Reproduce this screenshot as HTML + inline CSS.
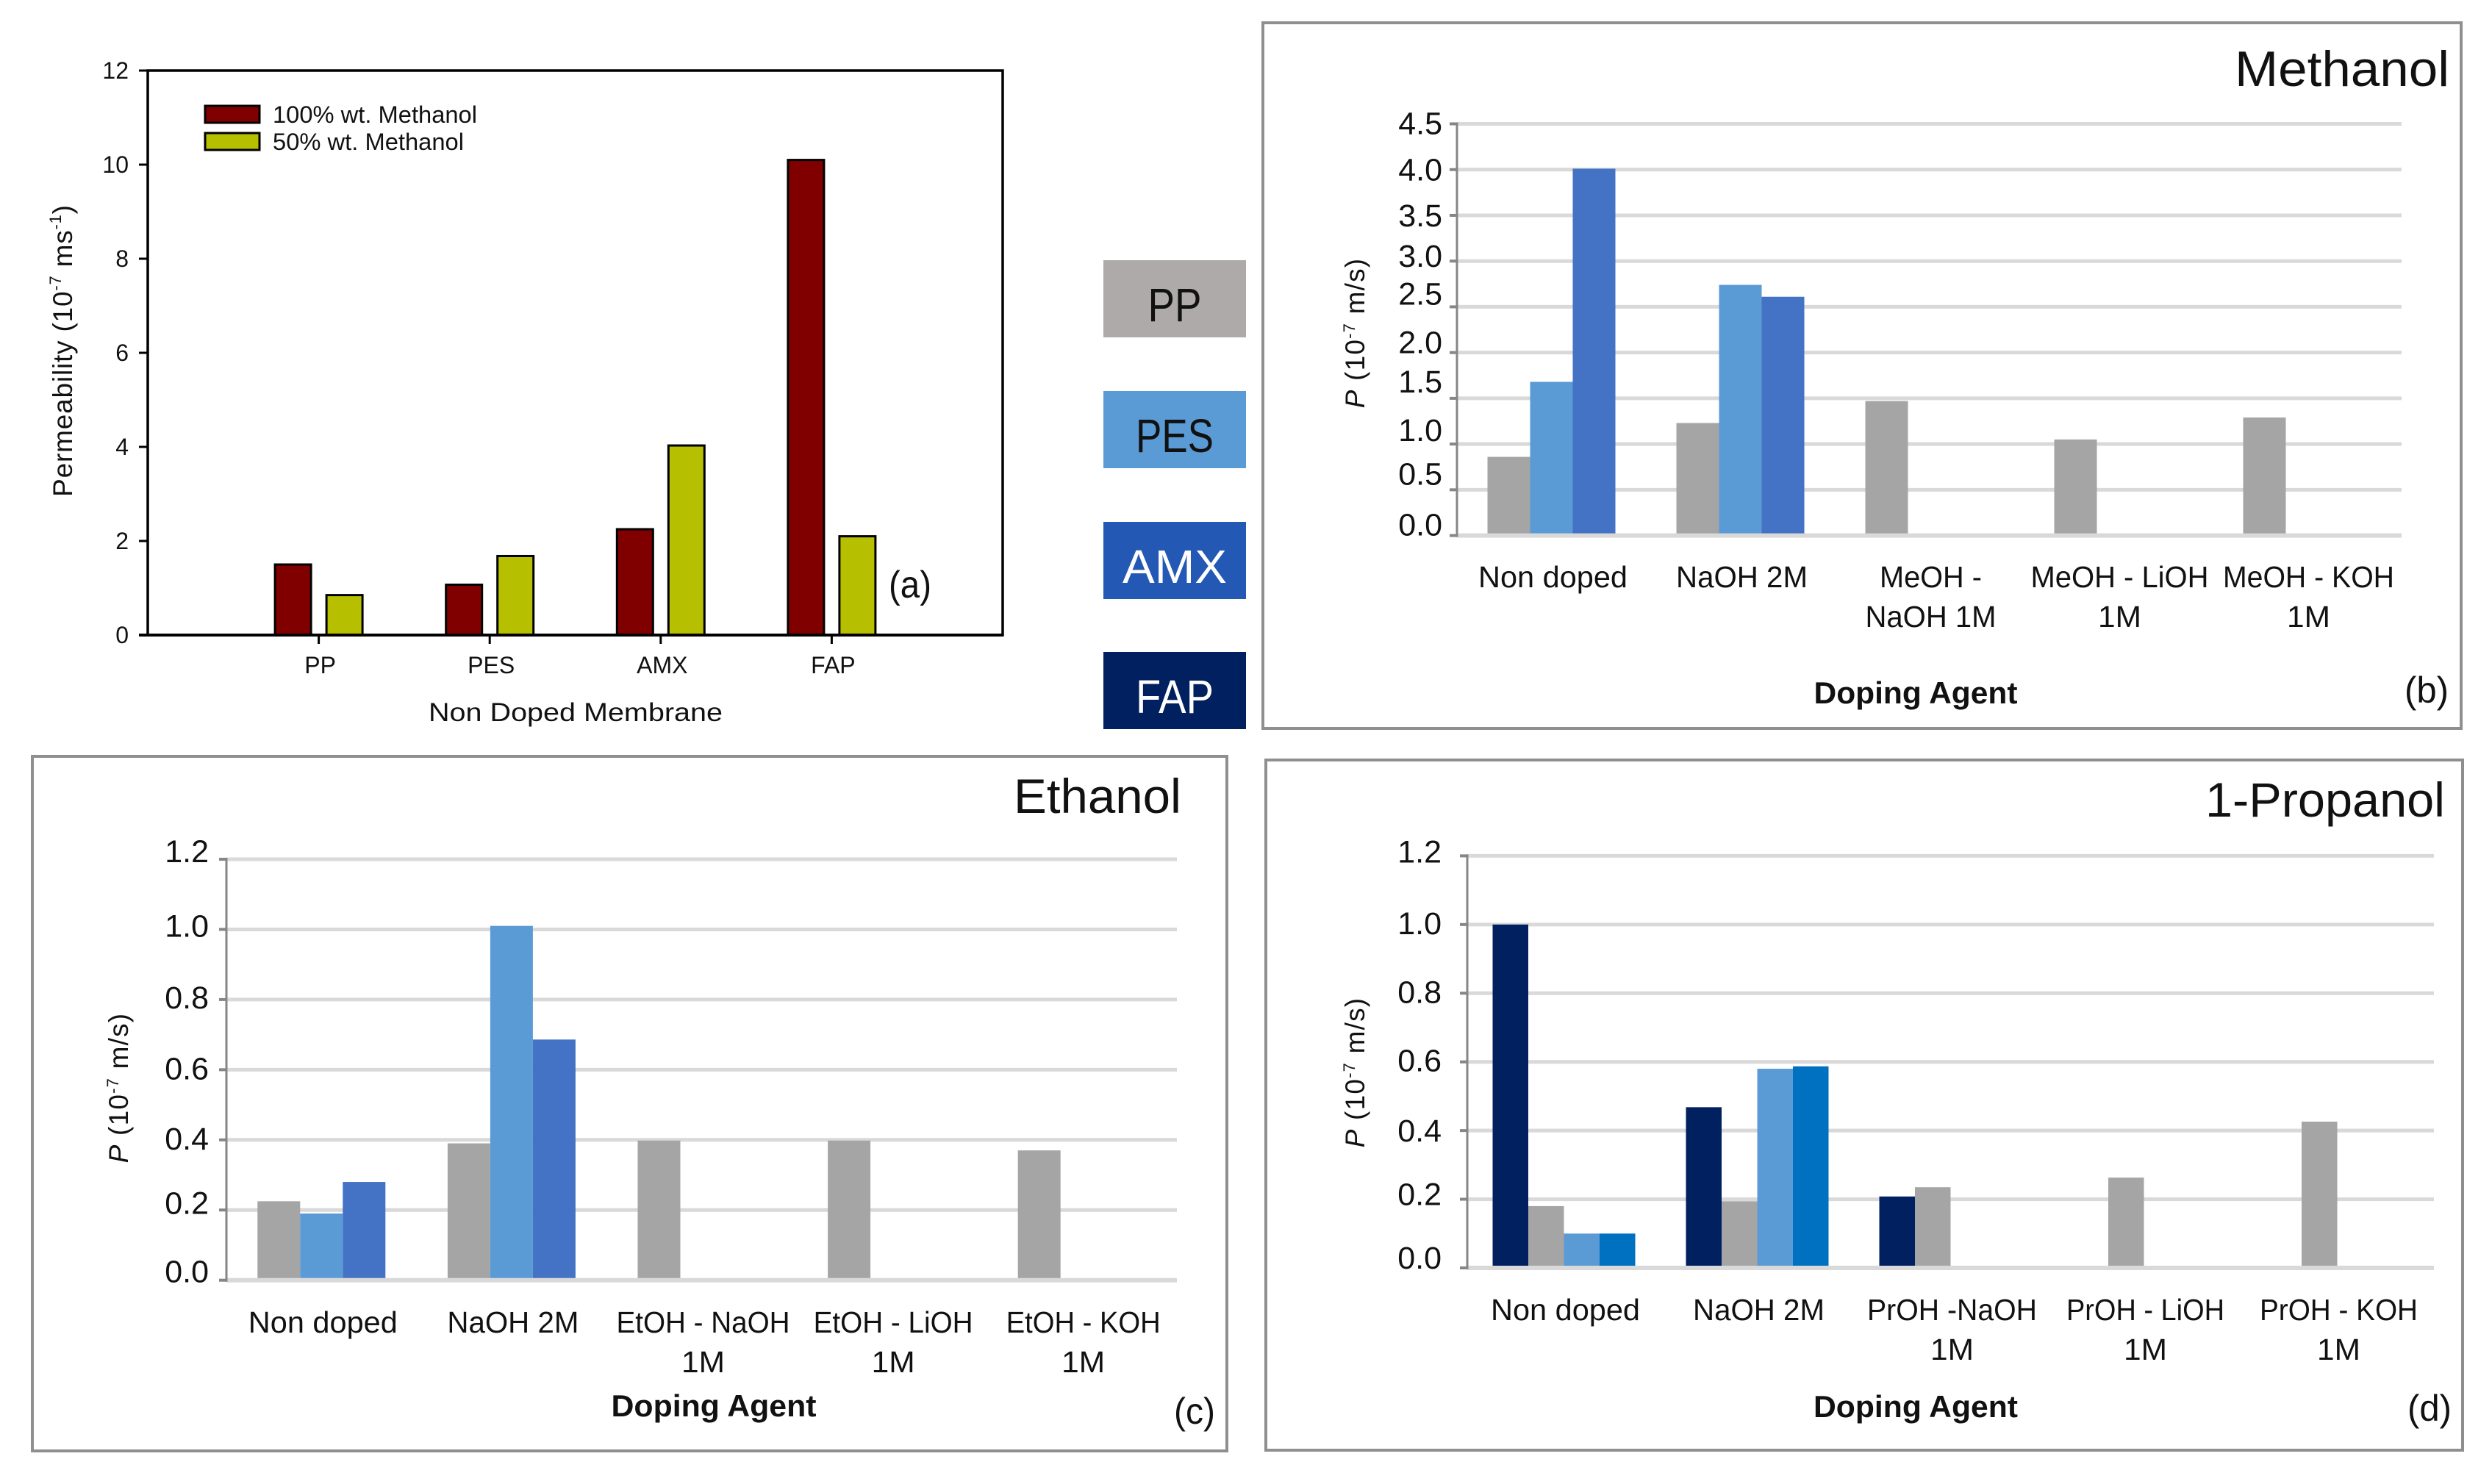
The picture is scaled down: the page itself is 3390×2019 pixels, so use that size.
<!DOCTYPE html>
<html lang="en">
<head>
<meta charset="utf-8">
<title>Membrane permeability charts</title>
<style>
html,body{margin:0;padding:0;background:#fff;}
svg{display:block;font-family:"Liberation Sans",sans-serif;}
text{fill:#111;}
</style>
</head>
<body>
<svg id="figure" xmlns="http://www.w3.org/2000/svg" width="3390" height="2019" viewBox="0 0 3390 2019">
  <rect x="0" y="0" width="3390" height="2019" fill="#fff"/>

  <!-- Panel frames -->
  <rect x="1718" y="31" width="1630" height="960" fill="none" stroke="#8f8f8f" stroke-width="4"/>
  <rect x="44" y="1029" width="1625" height="945" fill="none" stroke="#8f8f8f" stroke-width="4"/>
  <rect x="1722" y="1034" width="1628" height="939" fill="none" stroke="#8f8f8f" stroke-width="4"/>

  <!-- Panel A -->
  <g id="panel-a"></g>
  <rect x="279" y="144" width="74" height="23" fill="#800000" stroke="#000" stroke-width="3"/>
  <text x="371" y="167" font-size="32" textLength="278" lengthAdjust="spacingAndGlyphs">100% wt. Methanol</text>
  <rect x="279" y="181" width="74" height="23" fill="#b7c000" stroke="#000" stroke-width="3"/>
  <text x="371" y="204" font-size="32" textLength="260" lengthAdjust="spacingAndGlyphs">50% wt. Methanol</text>
  <text x="783" y="981" font-size="35" text-anchor="middle" textLength="400" lengthAdjust="spacingAndGlyphs">Non Doped Membrane</text>
  <text transform="translate(98,477) rotate(-90)" font-size="37" letter-spacing="0.8" text-anchor="middle">Permeability (10<tspan font-size="22" dy="-15">-7</tspan><tspan dy="15">  ms</tspan><tspan font-size="22" dy="-15">-1</tspan><tspan dy="15">)</tspan></text>
  <text x="1238" y="813" font-size="52" text-anchor="middle" textLength="58" lengthAdjust="spacingAndGlyphs">(a)</text>

  <!-- Shared legend swatches -->
  <rect x="1501" y="354" width="194" height="105" fill="#aeaaaa"/>
  <text x="1598" y="437" font-size="64" text-anchor="middle" textLength="73" lengthAdjust="spacingAndGlyphs">PP</text>
  <rect x="1501" y="532" width="194" height="105" fill="#5b9bd5"/>
  <text x="1598" y="615" font-size="64" text-anchor="middle" textLength="106" lengthAdjust="spacingAndGlyphs">PES</text>
  <rect x="1501" y="710" width="194" height="105" fill="#2358b4"/>
  <text x="1598" y="793" font-size="64" text-anchor="middle" textLength="142" lengthAdjust="spacingAndGlyphs" style="fill:#fff">AMX</text>
  <rect x="1501" y="887" width="194" height="105" fill="#002060"/>
  <text x="1598" y="970" font-size="64" text-anchor="middle" textLength="106" lengthAdjust="spacingAndGlyphs" style="fill:#fff">FAP</text>

  <!-- Panel B -->
  <g id="panel-b"></g>
  <text x="3332" y="117" font-size="68" text-anchor="end" textLength="292" lengthAdjust="spacingAndGlyphs">Methanol</text>
  <text x="2606" y="957" font-size="42" font-weight="bold" text-anchor="middle" textLength="277" lengthAdjust="spacingAndGlyphs">Doping Agent</text>
  <text transform="translate(1856,453) rotate(-90)" font-size="37" letter-spacing="1.2" text-anchor="middle"><tspan font-style="italic">P</tspan> (10<tspan font-size="22" dy="-13">-7</tspan><tspan dy="13"> m/s)</tspan></text>
  <text x="3331" y="956" font-size="50" text-anchor="end" textLength="60" lengthAdjust="spacingAndGlyphs">(b)</text>

  <!-- Panel C -->
  <g id="panel-c"></g>
  <text x="1607" y="1106" font-size="66" text-anchor="end" textLength="228" lengthAdjust="spacingAndGlyphs">Ethanol</text>
  <text x="971" y="1927" font-size="42" font-weight="bold" text-anchor="middle" textLength="279" lengthAdjust="spacingAndGlyphs">Doping Agent</text>
  <text transform="translate(174,1480) rotate(-90)" font-size="37" letter-spacing="1.2" text-anchor="middle"><tspan font-style="italic">P</tspan> (10<tspan font-size="22" dy="-13">-7</tspan><tspan dy="13"> m/s)</tspan></text>
  <text x="1653" y="1937" font-size="50" text-anchor="end" textLength="56" lengthAdjust="spacingAndGlyphs">(c)</text>

  <!-- Panel D -->
  <g id="panel-d"></g>
  <text x="3326" y="1111" font-size="66" text-anchor="end" textLength="326" lengthAdjust="spacingAndGlyphs">1-Propanol</text>
  <text x="2606" y="1928" font-size="42" font-weight="bold" text-anchor="middle" textLength="278" lengthAdjust="spacingAndGlyphs">Doping Agent</text>
  <text transform="translate(1856,1459) rotate(-90)" font-size="37" letter-spacing="1.2" text-anchor="middle"><tspan font-style="italic">P</tspan> (10<tspan font-size="22" dy="-13">-7</tspan><tspan dy="13"> m/s)</tspan></text>
  <text x="3335" y="1933" font-size="50" text-anchor="end" textLength="60" lengthAdjust="spacingAndGlyphs">(d)</text>
</svg>

<script>
// ---- Panel A data ----
const categoriesA = ['PP', 'PES', 'AMX', 'FAP'];
const methanol100 = [1.5, 1.07, 2.25, 10.1];
const methanol50 = [0.85, 1.68, 4.03, 2.1];
const tickLabelsA = ['0', '2', '4', '6', '8', '10', '12'];

// ---- Panel B data (Methanol) ----
const categoriesB = [['Non doped'], ['NaOH 2M'], ['MeOH -', 'NaOH 1M'], ['MeOH - LiOH', '1M'], ['MeOH - KOH', '1M']];
const ppB = [0.86, 1.23, 1.47, 1.05, 1.29];
const pesB = [1.68, 2.74, null, null, null];
const amxB = [4.01, 2.61, null, null, null];
const tickLabelsB = ['0.0', '0.5', '1.0', '1.5', '2.0', '2.5', '3.0', '3.5', '4.0', '4.5'];

// ---- Panel C data (Ethanol) ----
const categoriesC = [['Non doped'], ['NaOH 2M'], ['EtOH - NaOH', '1M'], ['EtOH - LiOH', '1M'], ['EtOH - KOH', '1M']];
const ppC = [0.225, 0.39, 0.398, 0.398, 0.37];
const pesC = [0.19, 1.01, null, null, null];
const amxC = [0.28, 0.686, null, null, null];
const tickLabelsC = ['0.0', '0.2', '0.4', '0.6', '0.8', '1.0', '1.2'];

// ---- Panel D data (1-Propanol) ----
const categoriesD = [['Non doped'], ['NaOH 2M'], ['PrOH -NaOH', '1M'], ['PrOH - LiOH', '1M'], ['PrOH - KOH', '1M']];
const fapD = [1.0, 0.468, 0.208, null, null];
const ppD = [0.18, 0.194, 0.235, 0.263, 0.426];
const pesD = [0.10, 0.58, null, null, null];
const amxD = [0.10, 0.587, null, null, null];
const tickLabelsD = ['0.0', '0.2', '0.4', '0.6', '0.8', '1.0', '1.2'];

// ---- Layout helpers ----
const NS = 'http://www.w3.org/2000/svg';
const labelLengths = {
  'Non doped': 203, 'NaOH 2M': 179, 'MeOH -': 139, 'NaOH 1M': 178,
  'MeOH - LiOH': 242, 'MeOH - KOH': 233, '1M': 59,
  'EtOH - NaOH': 236, 'EtOH - LiOH': 217, 'EtOH - KOH': 210,
  'PrOH -NaOH': 231, 'PrOH - LiOH': 215, 'PrOH - KOH': 215
};

function make(tag, attrs, parent, content) {
  const node = document.createElementNS(NS, tag);
  for (const key in attrs) {
    node.setAttribute(key, attrs[key]);
  }
  if (content !== undefined) {
    node.textContent = content;
  }
  parent.appendChild(node);
  return node;
}

function linearY(layout, maxValue) {
  return function (v) {
    return layout.bottom - (v / maxValue) * (layout.bottom - layout.top);
  };
}

// ---- Panel A drawing ----
function drawPanelA() {
  const root = document.getElementById('panel-a');
  const layout = { left: 201, right: 1364, top: 96, bottom: 864 };
  const maxValue = Number(tickLabelsA[tickLabelsA.length - 1]);
  const y = linearY(layout, maxValue);
  const band = (layout.right - layout.left) / (categoriesA.length + 1);
  const xCat = function (i) { return layout.left + band * (i + 1); };
  const barWidth = 49;
  const barOffset = 35;

  categoriesA.forEach(function (name, i) {
    const rectA = make('rect', {
      x: xCat(i) - barOffset - barWidth / 2, y: y(methanol100[i]), width: barWidth,
      height: layout.bottom - y(methanol100[i]), fill: '#800000', stroke: '#000', 'stroke-width': 3
    }, root);
    
    

    const rectB = make('rect', {
      x: xCat(i) + barOffset - barWidth / 2, y: y(methanol50[i]), width: barWidth,
      height: layout.bottom - y(methanol50[i]), fill: '#b7c000', stroke: '#000', 'stroke-width': 3
    }, root);
    
    

    const tick = make('line', {
      x1: xCat(i), x2: xCat(i), y1: layout.bottom, y2: layout.bottom + 12, stroke: '#000', 'stroke-width': 3
    }, root);
    
    

    const label = make('text', {
      x: xCat(i) + 2, y: 916, 'font-size': 32, 'text-anchor': 'middle'
    }, root, name);
    
    
  });

  const frame = make('rect', {
    x: layout.left, y: layout.top, width: layout.right - layout.left, height: layout.bottom - layout.top,
    fill: 'none', stroke: '#000', 'stroke-width': 3.5
  }, root);
  
  

  const baseline = make('line', {
    x1: layout.left - 12, x2: layout.right + 1, y1: layout.bottom, y2: layout.bottom, stroke: '#000', 'stroke-width': 4
  }, root);
  
  

  tickLabelsA.forEach(function (text) {
    const v = Number(text);
    const tick = make('line', {
      x1: layout.left - 12, x2: layout.left, y1: y(v), y2: y(v), stroke: '#000', 'stroke-width': 3
    }, root);
    
    

    const label = make('text', {
      x: 175, y: y(v) + 11, 'font-size': 32, 'text-anchor': 'end'
    }, root, text);
    
    
  });
}

// ---- Panels B, C, D drawing ----
function drawGroupedPanel(prefix, rootId, layout, categories, tickLabels, seriesList, seriesColors, seriesNames, nudges) {
  const root = document.getElementById(rootId);
  const maxValue = Number(tickLabels[tickLabels.length - 1]);
  const y = linearY(layout, maxValue);
  const band = (layout.right - layout.left) / categories.length;
  const xCat = function (i) { return layout.left + band * (i + 0.5); };
  const barWidth = layout.barWidth;
  const groupStart = -barWidth * seriesList.length / 2;

  tickLabels.forEach(function (text, t) {
    const v = Number(text);
    const grid = make('line', {
      x1: layout.left, x2: layout.right, y1: y(v), y2: y(v), stroke: '#d9d9d9', 'stroke-width': 5
    }, root);
    
    
  });

  seriesList.forEach(function (values, s) {
    values.forEach(function (v, i) {
      if (v === null) { return; }
      const rect = make('rect', {
        x: xCat(i) + groupStart + s * barWidth, y: y(v), width: barWidth,
        height: layout.bottom - y(v), fill: seriesColors[s]
      }, root);
      
      
    });
  });

  const zeroLine = make('line', {
    x1: layout.left, x2: layout.right, y1: layout.bottom, y2: layout.bottom, stroke: '#d9d9d9', 'stroke-width': 6
  }, root);
  
  

  const axis = make('line', {
    x1: layout.left, x2: layout.left, y1: layout.top - 2, y2: layout.bottom + 2, stroke: '#868686', 'stroke-width': 3
  }, root);
  
  

  tickLabels.forEach(function (text, t) {
    const v = Number(text);
    const tick = make('line', {
      x1: layout.left - 10, x2: layout.left, y1: y(v), y2: y(v), stroke: '#868686', 'stroke-width': 4
    }, root);
    
    

    const label = make('text', {
      x: layout.tickLabelX, y: y(v) + 15 + nudges[t], 'font-size': 43, 'text-anchor': 'end'
    }, root, text);
    
    
  });

  categories.forEach(function (lines, i) {
    lines.forEach(function (line, row) {
      const label = make('text', {
        x: xCat(i) + 2, y: layout.catBaseline + row * 54, 'font-size': 41, 'text-anchor': 'middle',
        textLength: labelLengths[line], lengthAdjust: 'spacingAndGlyphs'
      }, root, line);
      
      
    });
  });
}

drawPanelA();

drawGroupedPanel('panel-b', 'panel-b',
  { left: 1982, right: 3267, top: 168.5, bottom: 728.6, barWidth: 58, tickLabelX: 1962, catBaseline: 799 },
  categoriesB, tickLabelsB, [ppB, pesB, amxB],
  ['#a5a5a5', '#5b9bd5', '#4472c4'], ['pp', 'pes', 'amx'],
  [-15, -22, -19, -23, -14, -18, -7, 0, 0, -1]);

drawGroupedPanel('panel-c', 'panel-c',
  { left: 308, right: 1601, top: 1169, bottom: 1741.7, barWidth: 58, tickLabelX: 284, catBaseline: 1813 },
  categoriesC, tickLabelsC, [ppC, pesC, amxC],
  ['#a5a5a5', '#5b9bd5', '#4472c4'], ['pp', 'pes', 'amx'],
  [-12, -10, -2, -2, -3, -5, -11]);

drawGroupedPanel('panel-d', 'panel-d',
  { left: 1996, right: 3311, top: 1164.4, bottom: 1725, barWidth: 48.5, tickLabelX: 1961, catBaseline: 1796 },
  categoriesD, tickLabelsD, [fapD, ppD, pesD, amxD],
  ['#002060', '#a5a5a5', '#5b9bd5', '#0070c0'], ['fap', 'pp', 'pes', 'amx'],
  [-14, -7, 0, -2, -2, -2, -6]);
</script>
</body>
</html>
